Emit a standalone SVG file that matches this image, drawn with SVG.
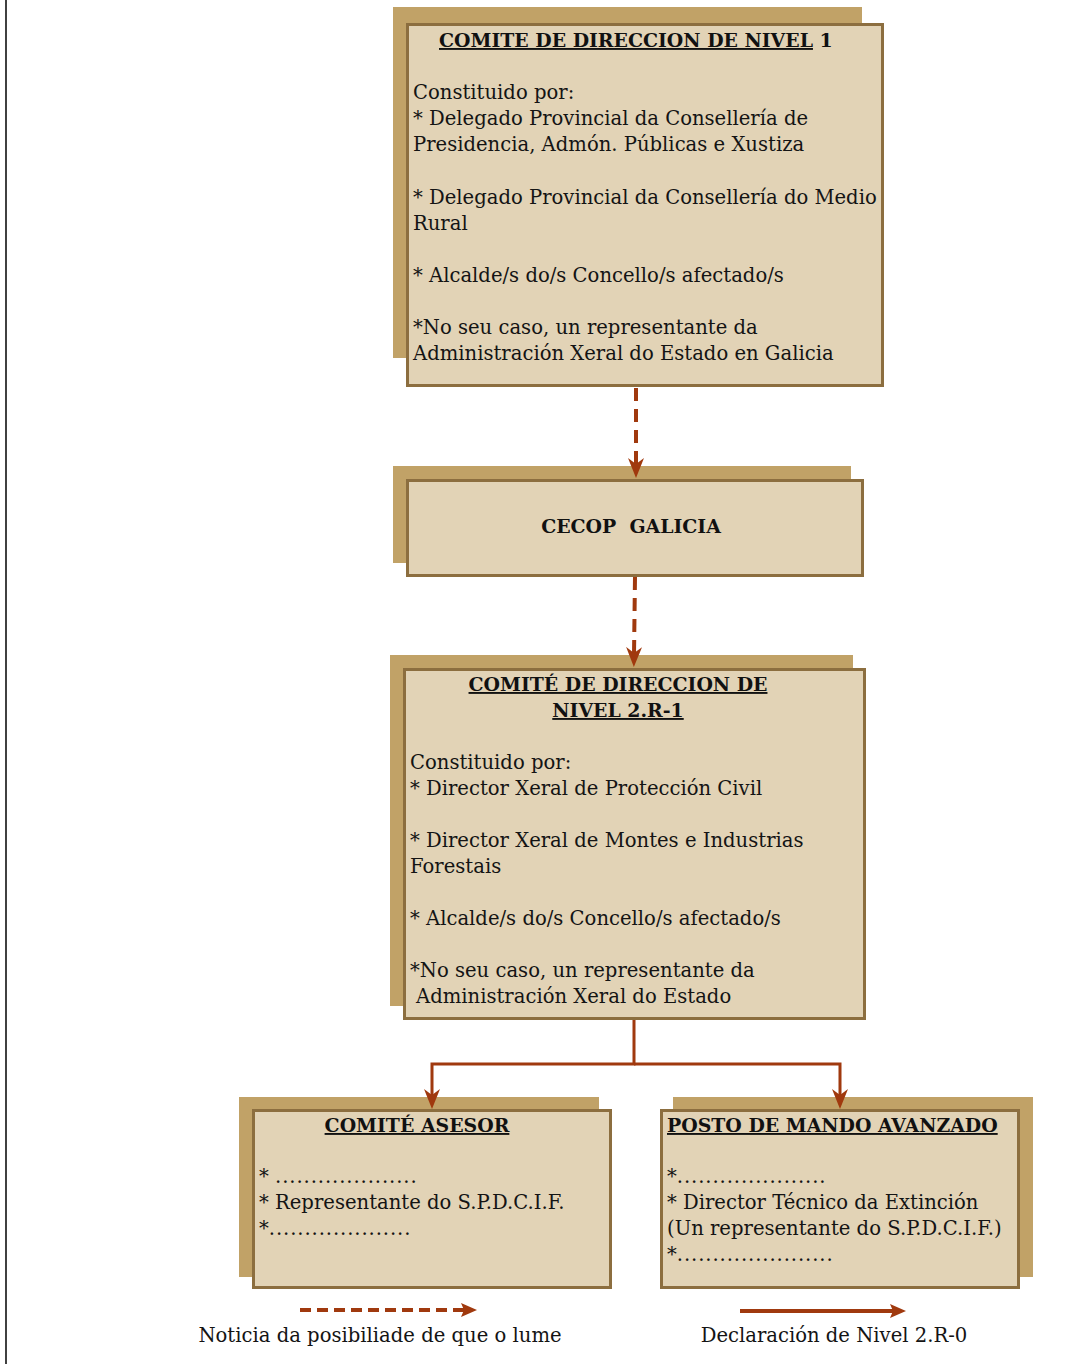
<svg xmlns="http://www.w3.org/2000/svg" width="1082" height="1364" viewBox="0 0 1082 1364">
<style>
.shadow{fill:#C1A267;}
.box{fill:#E2D3B6;stroke:#8C6E3F;stroke-width:3;}
.t{font-family:"DejaVu Serif","Liberation Serif",serif;font-size:19.6px;fill:#141414;}
.b{font-family:"DejaVu Serif","Liberation Serif",serif;font-size:18.9px;font-weight:bold;fill:#111;}
.u{text-decoration:underline;}
.d{letter-spacing:0.9px;}
.dash{fill:none;stroke:#A0390E;stroke-width:4;stroke-dasharray:13 8;}
.solid{fill:none;stroke:#A0390E;stroke-width:3;}
</style>
<defs>
<marker id="ah" markerUnits="userSpaceOnUse" viewBox="0 0 20 16" refX="8" refY="8" markerWidth="20" markerHeight="16" orient="auto">
<path d="M0,0 L20,8 L0,16 L6,8 Z" fill="#A0390E"/>
</marker>
<marker id="ahl" markerUnits="userSpaceOnUse" viewBox="0 0 16 14" refX="4" refY="7" markerWidth="16" markerHeight="14" orient="auto">
<path d="M0,0 L16,7 L0,14 L3,7 Z" fill="#A0390E"/>
</marker>
</defs>
<rect width="1082" height="1364" fill="#fff"/>
<line x1="6" y1="0" x2="6" y2="1364" stroke="#111" stroke-width="1.6"/>

<g id="comite-nivel-1">
<rect class="shadow" x="393" y="7" width="469" height="351"/>
<rect class="box" x="407.5" y="24.5" width="475" height="361"/>
<text class="b" x="439" y="47"><tspan class="u">COMITE DE DIRECCION DE NIVEL</tspan> 1</text>
<text class="t" x="413" y="99">Constituido por:</text>
<text class="t" x="413" y="125">* Delegado Provincial da Consellería de</text>
<text class="t" x="413" y="151">Presidencia, Admón. Públicas e Xustiza</text>
<text class="t" x="413" y="204">* Delegado Provincial da Consellería do Medio</text>
<text class="t" x="413" y="230">Rural</text>
<text class="t" x="413" y="282">* Alcalde/s do/s Concello/s afectado/s</text>
<text class="t" x="413" y="334">*No seu caso, un representante da</text>
<text class="t" x="413" y="360">Administración Xeral do Estado en Galicia</text>
</g>

<g id="cecop-galicia">
<rect class="shadow" x="393" y="466" width="458" height="97"/>
<rect class="box" x="407.5" y="480.5" width="455" height="95"/>
<text class="b" x="631" y="533" text-anchor="middle" xml:space="preserve">CECOP  GALICIA</text>
</g>

<g id="comite-nivel-2r1">
<rect class="shadow" x="390" y="655" width="463" height="351"/>
<rect class="box" x="404.5" y="669.5" width="460" height="349"/>
<text class="b u" x="618" y="691" text-anchor="middle">COMITÉ DE DIRECCION DE</text>
<text class="b u" x="618" y="717" text-anchor="middle">NIVEL 2.R-1</text>
<text class="t" x="410" y="769">Constituido por:</text>
<text class="t" x="410" y="795">* Director Xeral de Protección Civil</text>
<text class="t" x="410" y="847">* Director Xeral de Montes e Industrias</text>
<text class="t" x="410" y="873">Forestais</text>
<text class="t" x="410" y="925">* Alcalde/s do/s Concello/s afectado/s</text>
<text class="t" x="410" y="977">*No seu caso, un representante da</text>
<text class="t" x="416" y="1003">Administración Xeral do Estado</text>
</g>

<g id="comite-asesor">
<rect class="shadow" x="239" y="1097" width="360" height="180"/>
<rect class="box" x="253.5" y="1110.5" width="357" height="177"/>
<text class="b u" x="417" y="1132" text-anchor="middle">COMITÉ ASESOR</text>
<text class="t" x="259" y="1183">* <tspan class="d">....................</tspan></text>
<text class="t" x="259" y="1209">* Representante do S.P.D.C.I.F.</text>
<text class="t" x="259" y="1235">*<tspan class="d">....................</tspan></text>
</g>

<g id="posto-mando-avanzado">
<rect class="shadow" x="673" y="1097" width="360" height="180"/>
<rect class="box" x="661.5" y="1110.5" width="357" height="177"/>
<text class="b u" x="667" y="1132">POSTO DE MANDO AVANZADO</text>
<text class="t" x="667" y="1183">*<tspan class="d">.....................</tspan></text>
<text class="t" x="667" y="1209">* Director Técnico da Extinción</text>
<text class="t" x="667" y="1235">(Un representante do S.P.D.C.I.F.)</text>
<text class="t" x="667" y="1261">*<tspan class="d">......................</tspan></text>
</g>

<g id="connectors">
<line class="dash" x1="636" y1="388" x2="636" y2="466" marker-end="url(#ah)"/>
<line class="dash" x1="635" y1="577" x2="634" y2="655" marker-end="url(#ah)"/>
<polyline class="solid" points="634,1020 634,1064 432,1064 432,1097" marker-end="url(#ah)"/>
<polyline class="solid" points="634,1064 840,1064 840,1097" marker-end="url(#ah)"/>
</g>

<g id="legend">
<line x1="300" y1="1310" x2="465" y2="1310" stroke="#A0390E" stroke-width="4" stroke-dasharray="11 6" marker-end="url(#ahl)"/>
<line x1="740" y1="1311" x2="894" y2="1311" stroke="#A0390E" stroke-width="4" marker-end="url(#ahl)"/>
<text class="t" x="380" y="1342" text-anchor="middle">Noticia da posibiliade de que o lume</text>
<text class="t" x="834" y="1342" text-anchor="middle">Declaración de Nivel 2.R-0</text>
</g>
</svg>
